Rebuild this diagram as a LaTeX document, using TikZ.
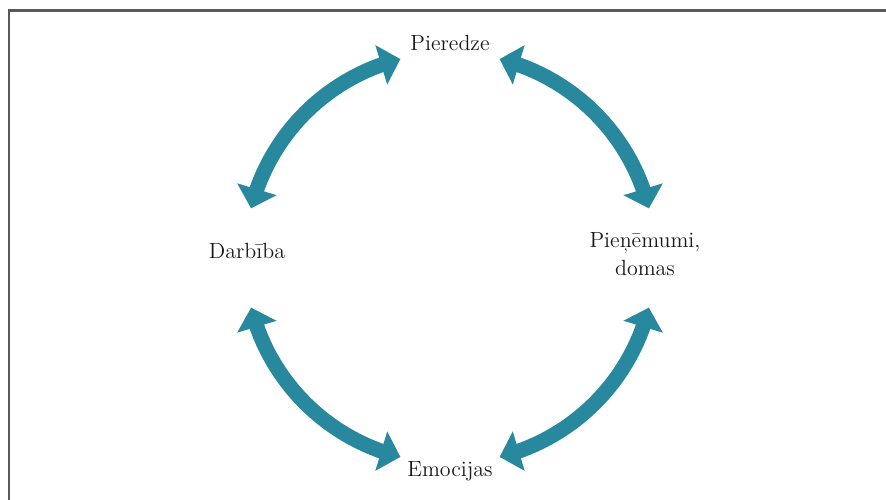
\documentclass[tikz,border=0pt]{standalone}
\usepackage{xcolor}
\usepackage{tikz}
\usetikzlibrary{arrows.meta, bending, positioning}
\definecolor{zilgans}{RGB}{40,137,158}

\begin{document}
\begin{tikzpicture}[>={Triangle[width=0.8cm, length=0.4cm]},
    font=\fontsize{12.5}{16}\selectfont,
    bulta/.style={<->, line width=0.3cm, draw=zilgans}]
    \useasboundingbox (-9,-4.84) rectangle (8.72,5.16);

    % 1. Rāmis
    \draw[line width=1.5pt, black!65] (-8.82,-4.84) -- (-8.82,4.95) -- (8.72,4.95);

    % 2. Uzraksti
    \node[text=black!90] (pieredze) at (0,4.3) {Pieredze};
    \node[text=black!90, align=center] (domas) at (3.9,0.08) {Pieņēmumi,\\ domas};
    \node[text=black!90] (emocijas) at (0,-4.27) {Emocijas};
    \node[text=black!90] (darbiba) at (-4.06,0.14) {Darbība};

    % 3. Bultu gali
    \coordinate (a1) at (166:4.1);
    \coordinate (a2) at (76:4.1);
    \coordinate (a3) at (-14:4.1);
    \coordinate (a4) at (-104:4.1);

    % 4. Bultas pa apli
    \draw[bulta] (a1) arc[start angle=166, end angle=104, radius=4.1];
    \draw[bulta] (a2) arc[start angle=76, end angle=14, radius=4.1];
    \draw[bulta] (a3) arc[start angle=-14, end angle=-76, radius=4.1];
    \draw[bulta] (a4) arc[start angle=-104, end angle=-166, radius=4.1];
\end{tikzpicture}
\end{document}
